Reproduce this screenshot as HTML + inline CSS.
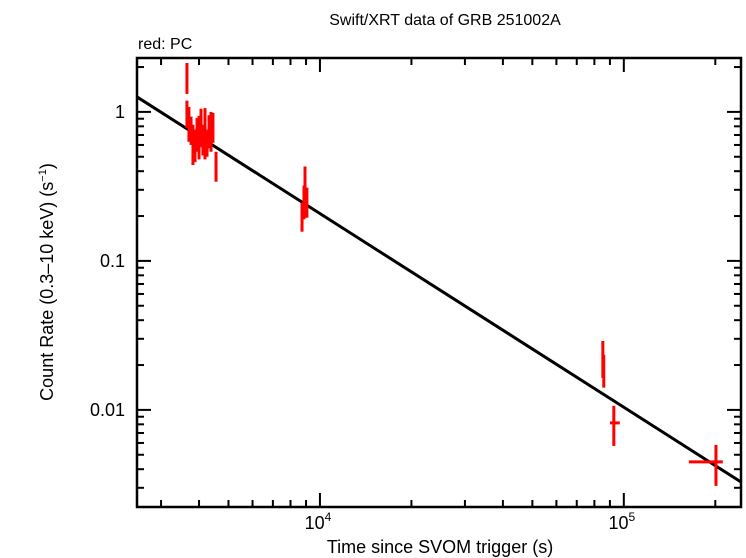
<!DOCTYPE html>
<html><head><meta charset="utf-8"><style>
html,body{margin:0;padding:0;background:#fff;}
svg{display:block;font-family:"Liberation Sans",sans-serif;}
</style></head><body>
<svg id="chart" width="746" height="558" viewBox="0 0 746 558" xmlns="http://www.w3.org/2000/svg">
<text x="445" y="25" font-size="16" text-anchor="middle">Swift/XRT data of GRB 251002A</text>
<text x="138" y="49" font-size="16">red: PC</text>
<text x="440" y="553" font-size="18" text-anchor="middle">Time since SVOM trigger (s)</text>
<text transform="translate(53,282) rotate(-90)" font-size="18" text-anchor="middle">Count Rate (0.3–10 keV) (s<tspan font-size="11" dy="-7">−1</tspan><tspan dy="7">)</tspan></text>
<g id="ticks"></g>
<g id="marks"></g>
<rect x="137" y="58" width="604" height="449" fill="none" stroke="#000" stroke-width="2.5"/>
</svg>
<script>
const times = [3650,3650,3705,3765,3820,3880,3940,4000,4060,4120,4185,4250,4315,4380,4445,4550,8730,8860,8930,9060,85300,85900,92700,201000];
const tLo = [3630,3630,3690,3750,3805,3865,3925,3985,4045,4105,4170,4235,4300,4365,4430,4500,8680,8820,8890,9000,84800,85400,90000,163700];
const tHi = [3670,3670,3720,3780,3835,3895,3955,4015,4075,4135,4200,4265,4330,4395,4460,4600,8780,8900,8970,9120,85800,86400,97000,211700];
const rates = [1.72,0.985,0.857,0.757,0.62,0.60,0.70,0.68,0.78,0.65,0.73,0.63,0.757,0.78,0.78,0.44,0.21,0.257,0.30,0.265,0.0227,0.0191,0.00818,0.00448];
const rLo = [1.32,0.78,0.63,0.60,0.44,0.46,0.54,0.48,0.58,0.51,0.48,0.50,0.57,0.54,0.62,0.34,0.157,0.19,0.195,0.195,0.0164,0.0141,0.00573,0.00309];
const rHi = [2.13,1.19,1.08,0.93,0.82,0.76,0.91,0.94,1.05,0.82,1.06,0.76,0.95,1.0,0.985,0.54,0.245,0.32,0.43,0.31,0.029,0.0234,0.01064,0.00582];
const fitNorm = [1.26];
const fitIndex = [1.30];
const fitT0 = [2500];
const xTickLabels = ["4","5"];
const yTickLabels = ["1","0.1","0.01"];

const L=137,R=741,T=58,B=507;
const xLogMin=Math.log10(2500), xLogMax=Math.log10(243000);
const yLogMin=Math.log10(0.00223), yLogMax=Math.log10(2.30);
const X=t=>L+(Math.log10(t)-xLogMin)/(xLogMax-xLogMin)*(R-L);
const Y=r=>B-(Math.log10(r)-yLogMin)/(yLogMax-yLogMin)*(B-T);
const NS="http://www.w3.org/2000/svg";
function mk(tag,attrs,parent){const e=document.createElementNS(NS,tag);for(const k in attrs)e.setAttribute(k,attrs[k]);parent.appendChild(e);return e;}
const tg=document.getElementById('ticks'), mg=document.getElementById('marks');
for(let d=3;d<=5;d++)for(let m=1;m<10;m++){const t=m*Math.pow(10,d);if(t<2500||t>243000)continue;const x=X(t);const len=m===1?14:7;
 const a=mk('line',{x1:x,y1:B,x2:x,y2:B-len,stroke:'#000','stroke-width':2},tg);
 
 
 const b=mk('line',{x1:x,y1:T,x2:x,y2:T+len,stroke:'#000','stroke-width':2},tg);
 
 }
xTickLabels.forEach(p=>{const x=X(Math.pow(10,+p));const tx=mk('text',{x:x-2,y:529,'font-size':18,'text-anchor':'middle'},tg);tx.textContent='10';const s=mk('tspan',{'font-size':12,dy:-8},tx);s.textContent=p;
 
 });
for(let d=-3;d<=0;d++)for(let m=1;m<10;m++){const r=m*Math.pow(10,d);if(r<0.00223||r>2.3)continue;const y=Y(r);const len=m===1?14:7;
 const a=mk('line',{x1:L,y1:y,x2:L+len,y2:y,stroke:'#000','stroke-width':2},tg);
 
 
 const b=mk('line',{x1:R,y1:y,x2:R-len,y2:y,stroke:'#000','stroke-width':2},tg);
 
 }
yTickLabels.forEach(l=>{const tx=mk('text',{x:125,y:Y(+l)+6,'font-size':18,'text-anchor':'end'},tg);tx.textContent=l;
 
 });
const f=t=>fitNorm[0]*Math.pow(t/fitT0[0],-fitIndex[0]);
const fl=mk('line',{x1:X(2500),y1:Y(f(2500)),x2:X(243000),y2:Y(f(243000)),stroke:'#000','stroke-width':3},mg);


times.forEach((t,i)=>{const g=mk('g',{},mg);
 
 
 mk('line',{x1:X(t),y1:Y(rLo[i]),x2:X(t),y2:Y(rHi[i]),stroke:'#f00','stroke-width':3},g);
 mk('line',{x1:X(tLo[i]),y1:Y(rates[i]),x2:X(tHi[i]),y2:Y(rates[i]),stroke:'#f00','stroke-width':3},g);});
</script>
</body></html>
